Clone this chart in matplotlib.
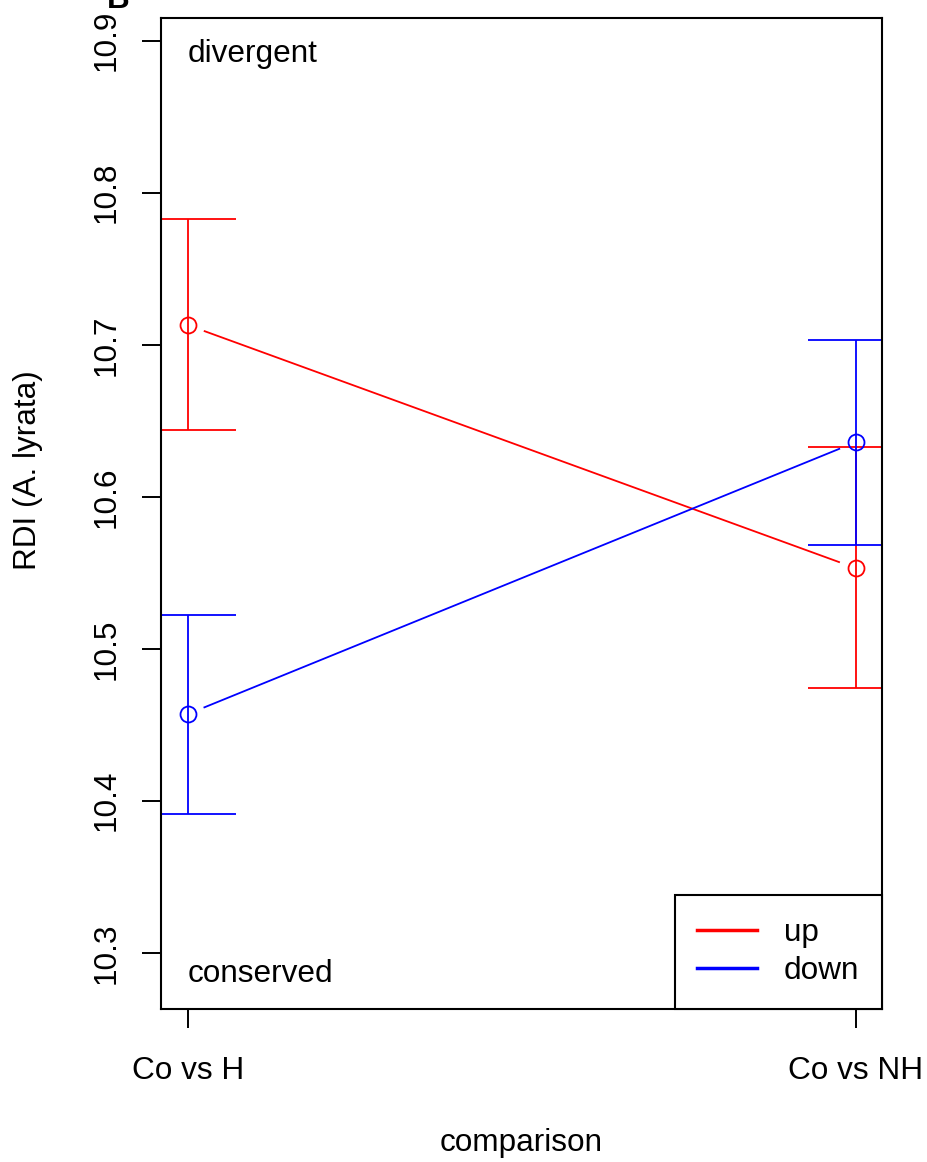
import numpy as np
import matplotlib
matplotlib.use("Agg")
import matplotlib.pyplot as plt

plt.rcParams['font.family'] = ['Liberation Sans', 'DejaVu Sans']

comparisons = ["Co vs H", "Co vs NH"]
xpos = [1, 2]
series = ["up", "down"]
colors = ["#ff0000", "#0000ff"]
means = {"up": [10.713, 10.553], "down": [10.457, 10.636]}
upper = {"up": [10.783, 10.633], "down": [10.522, 10.703]}
lower = {"up": [10.644, 10.474], "down": [10.391, 10.568]}

fs = 22.7
fig = plt.figure(figsize=(9.28, 11.62), dpi=100)
ax = fig.add_axes([161/928, 1 - 1009/1162, 721/928, 991/1162])
ax.set_xlim(0.96, 2.039)
ax.set_ylim(10.263, 10.915)
fig.canvas.draw()

cap = 0.072
gap_px = 18
for s, c in zip(series, colors):
    m = means[s]
    # error bars
    for x, lo, hi in zip(xpos, lower[s], upper[s]):
        ax.vlines(x, lo, hi, color=c, lw=1.3)
        ax.hlines([lo, hi], x - cap, x + cap, color=c, lw=1.3)
    # points
    ax.plot(xpos, m, 'o', mfc='none', mec=c, ms=11.5, mew=1.3)
    # connecting line with gaps (type = "b")
    p = ax.transData.transform(np.column_stack([xpos, m]))
    d = p[1] - p[0]
    u = d / np.hypot(*d)
    q = np.array([p[0] + u * gap_px, p[1] - u * gap_px])
    qd = ax.transData.inverted().transform(q)
    ax.plot(qd[:, 0], qd[:, 1], color=c, lw=1.3, label=s)

ax.text(1.0, 10.891, "divergent", fontsize=fs, ha='left', va='center')
ax.text(1.0, 10.286, "conserved", fontsize=fs, ha='left', va='center')

ax.set_xticks(xpos)
ax.set_xticklabels(comparisons, fontsize=fs)
ax.set_yticks([10.3, 10.4, 10.5, 10.6, 10.7, 10.8, 10.9])
ax.set_yticklabels(["10.3", "10.4", "10.5", "10.6", "10.7", "10.8", "10.9"], fontsize=fs)
plt.setp(ax.get_yticklabels(), rotation=90, va='center', ha='right')
ax.tick_params(axis='both', length=13.5, width=1.4, direction='out')
ax.tick_params(axis='y', pad=15)
ax.tick_params(axis='x', pad=20)
for sp in ax.spines.values():
    sp.set_linewidth(1.5)

fig.text(28/928, 1 - 470/1162, "RDI (A. lyrata)", fontsize=fs, rotation=90,
         ha='center', va='center')
fig.text(521/928, 1 - 1143/1162, "comparison", fontsize=fs, ha='center', va='center')
fig.text(118/928, 1 - 8/1162, "B", fontsize=fs, fontweight='bold', ha='center', va='baseline')

leg = ax.legend(loc='lower right', borderaxespad=0, fancybox=False, edgecolor='black',
                framealpha=1, fontsize=fs, handlelength=1.9, handletextpad=0.85,
                borderpad=0.72, labelspacing=0.27)
leg.get_frame().set_linewidth(1.5)
for h in leg.get_lines():
    h.set_linewidth(2.5)

fig.savefig("out.png", dpi=100)
